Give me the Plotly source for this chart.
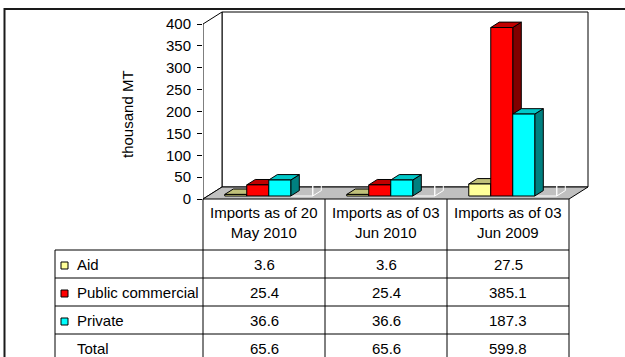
import plotly.graph_objects as go

# ---------------- data ----------------
categories = ["Imports as of 20<br>May 2010", "Imports as of 03<br>Jun 2010", "Imports as of 03<br>Jun 2009"]
series_names = ["Aid", "Public commercial", "Private", "Total"]
aid = [3.6, 3.6, 27.5]
public_commercial = [25.4, 25.4, 385.1]
private = [36.6, 36.6, 187.3]
total = [65.6, 65.6, 599.8]
y_ticks = [0, 50, 100, 150, 200, 250, 300, 350, 400]
y_title = "thousand MT"

# ---------------- styling / geometry ----------------
W, H = 625, 357
FONT = "Liberation Sans, Arial, sans-serif"
FS = 15
X_LEFT_PX = 203          # left edge of the category axis (front)
CAT_PX = 122             # width of one category in px
ZERO_PX = 199            # pixel row of value 0 (front)
S = 0.4375               # px per value unit
Y_MAX = 400
DEPTH_DX_PX, DEPTH_DY_PX = 19, 12
DXU = DEPTH_DX_PX / CAT_PX
DYU = DEPTH_DY_PX / S
BW = 22 / CAT_PX
F0, F1 = 0.25, 0.70

front_cols = ["#FFFF99", "#FF0000", "#00FFFF"]
top_cols = ["#C0C07A", "#C00000", "#00C8C8"]
side_cols = ["#80803F", "#800000", "#008080"]
values = [aid, public_commercial, private]


def pxx(x):
    return x / W


def pxy(y):
    return 1 - y / H


fig = go.Figure()


def add_polys(polys, fill, line_color, name, hover):
    xs, ys = [], []
    for p in polys:
        for (a, b) in p:
            xs.append(a)
            ys.append(b)
        xs.append(p[0][0])
        ys.append(p[0][1])
        xs.append(None)
        ys.append(None)
    fig.add_trace(go.Scatter(
        x=xs, y=ys, mode="lines", fill="toself", fillcolor=fill,
        line=dict(color=line_color, width=1), name=name,
        hoverinfo="text", text=hover, showlegend=False))


def bar_geom(k, i, v):
    x0 = i + F0 * DXU + (k - 2) * BW
    x1 = x0 + BW
    b = F0 * DYU
    t = b + v
    ddx = (F1 - F0) * DXU
    ddy = (F1 - F0) * DYU
    front = [(x0, b), (x1, b), (x1, t), (x0, t)]
    top = [(x0, t), (x1, t), (x1 + ddx, t + ddy), (x0 + ddx, t + ddy)]
    side = [(x1, b), (x1 + ddx, b + ddy), (x1 + ddx, t + ddy), (x1, t)]
    return front, top, side


# Total series: transparent box with white edges (clipped at axis max)
tot_polys = []
for i, v in enumerate(total):
    f, t, s = bar_geom(3, i, min(v, Y_MAX))
    tot_polys += [f, t, s]
fig.add_trace(go.Scatter(
    x=sum([[p[j][0] for j in range(4)] + [p[0][0], None] for p in tot_polys], []),
    y=sum([[p[j][1] for j in range(4)] + [p[0][1], None] for p in tot_polys], []),
    mode="lines", line=dict(color="white", width=1), hoverinfo="skip", showlegend=False))

for k, vals in enumerate(values):
    fronts, tops, sides = [], [], []
    for i, v in enumerate(vals):
        f, t, s = bar_geom(k, i, v)
        fronts.append(f)
        tops.append(t)
        sides.append(s)
    add_polys(sides, side_cols[k], "black", series_names[k], series_names[k])
    add_polys(tops, top_cols[k], "black", series_names[k], series_names[k])
    add_polys(fronts, front_cols[k], "black", series_names[k], series_names[k])

shapes = []
# walls and floor (data coordinates)
xl, xr = -0.5, len(categories) - 0.5
shapes.append(dict(type="rect", xref="x", yref="y", x0=xl + DXU, x1=xr + DXU, y0=DYU, y1=Y_MAX + DYU,
                   fillcolor="white", line=dict(color="black", width=1), layer="below"))
shapes.append(dict(type="path", xref="x", yref="y",
                   path=f"M {xl},0 L {xl+DXU},{DYU} L {xl+DXU},{Y_MAX+DYU} L {xl},{Y_MAX} Z",
                   fillcolor="white", line=dict(color="black", width=1), layer="below"))
shapes.append(dict(type="path", xref="x", yref="y",
                   path=f"M {xl},0 L {xr},0 L {xr+DXU},{DYU} L {xl+DXU},{DYU} Z",
                   fillcolor="#C0C0C0", line=dict(color="black", width=1), layer="below"))

# outer frame
shapes.append(dict(type="line", xref="paper", yref="paper", x0=pxx(4), x1=pxx(625), y0=pxy(9), y1=pxy(9),
                   line=dict(color="#1a1a1a", width=2)))
shapes.append(dict(type="line", xref="paper", yref="paper", x0=pxx(4.5), x1=pxx(4.5), y0=pxy(8), y1=pxy(357),
                   line=dict(color="#1a1a1a", width=2)))

# data table
col_edges = [X_LEFT_PX + CAT_PX * j for j in range(len(categories) + 1)]
row_edges = [250, 278, 306, 334]
TABLE_LEFT = 55
for xe in col_edges:
    shapes.append(dict(type="line", xref="paper", yref="paper", x0=pxx(xe), x1=pxx(xe),
                       y0=pxy(ZERO_PX), y1=pxy(H), line=dict(color="black", width=1)))
shapes.append(dict(type="line", xref="paper", yref="paper", x0=pxx(TABLE_LEFT), x1=pxx(TABLE_LEFT),
                   y0=pxy(row_edges[0]), y1=pxy(H), line=dict(color="black", width=1)))
for ye in row_edges:
    shapes.append(dict(type="line", xref="paper", yref="paper", x0=pxx(TABLE_LEFT), x1=pxx(col_edges[-1]),
                       y0=pxy(ye), y1=pxy(ye), line=dict(color="black", width=1)))

annotations = []
# header
for j, c in enumerate(categories):
    annotations.append(dict(text=c, xref="paper", yref="paper", x=pxx(col_edges[j] + CAT_PX / 2), y=pxy(222),
                            xanchor="center", yanchor="middle", showarrow=False,
                            font=dict(family=FONT, size=FS, color="black")))
table_rows = [aid, public_commercial, private, total]
for r, (nm, vals) in enumerate(zip(series_names, table_rows)):
    yc = row_edges[0] + 28 * r + 14
    annotations.append(dict(text=nm, xref="paper", yref="paper", x=pxx(75), y=pxy(yc),
                            xanchor="left", yanchor="middle", showarrow=False,
                            font=dict(family=FONT, size=FS, color="black")))
    if r < 3:
        shapes.append(dict(type="rect", xref="paper", yref="paper", x0=pxx(61), x1=pxx(68),
                           y0=pxy(yc + 5), y1=pxy(yc - 2), fillcolor=front_cols[r],
                           line=dict(color="black", width=1)))
    for j, v in enumerate(vals):
        annotations.append(dict(text=f"{v:.1f}", xref="paper", yref="paper",
                                x=pxx(col_edges[j] + CAT_PX / 2), y=pxy(yc),
                                xanchor="center", yanchor="middle", showarrow=False,
                                font=dict(family=FONT, size=FS, color="black")))
# y title
annotations.append(dict(text=y_title, xref="paper", yref="paper", x=pxx(128), y=pxy(114),
                        textangle=-90, xanchor="center", yanchor="middle", showarrow=False,
                        font=dict(family=FONT, size=FS, color="black")))

fig.update_layout(
    width=W, height=H, margin=dict(l=0, r=0, t=0, b=0),
    paper_bgcolor="white", plot_bgcolor="rgba(0,0,0,0)",
    showlegend=False,
    xaxis=dict(domain=[X_LEFT_PX / W, 1], range=[-0.5, -0.5 + (W - X_LEFT_PX) / CAT_PX],
               visible=False, fixedrange=True),
    yaxis=dict(domain=[0, 1], range=[-(H - ZERO_PX) / S, ZERO_PX / S],
               tickvals=y_ticks, ticktext=[str(t) for t in y_ticks],
               ticks="outside", ticklen=5, tickcolor="black", tickwidth=1,
               ticklabelstandoff=3,
               showline=False, showgrid=False, zeroline=False,
               tickfont=dict(family=FONT, size=FS, color="black"), fixedrange=True),
    shapes=shapes, annotations=annotations,
)

fig.write_html("out.html")
